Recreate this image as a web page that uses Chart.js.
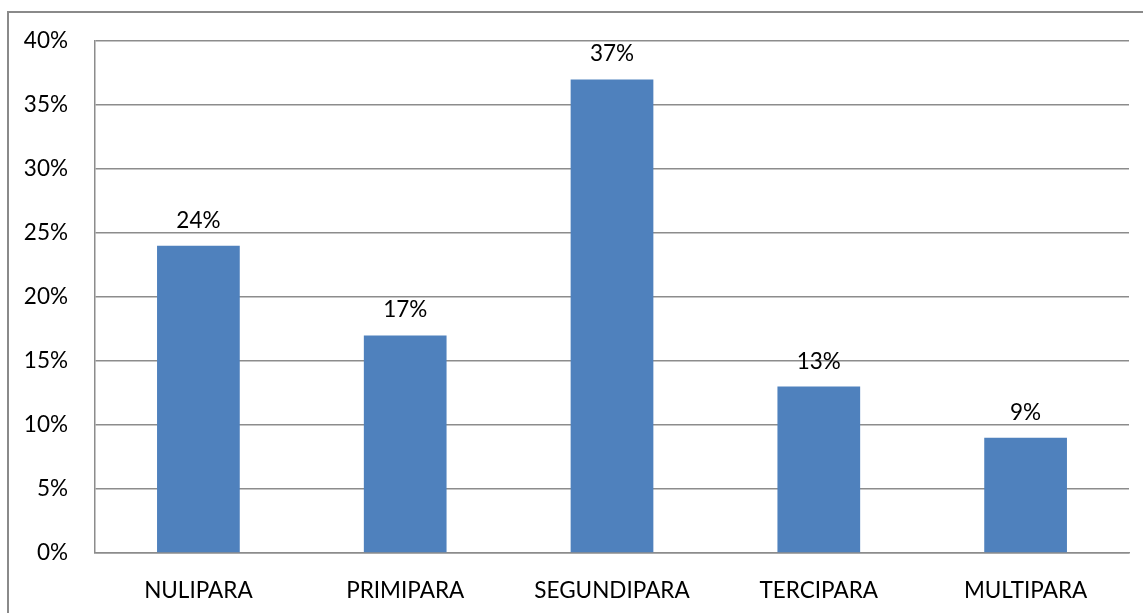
<!DOCTYPE html>
<html>
<head>
<meta charset="utf-8">
<script src="https://cdn.jsdelivr.net/npm/chart.js@4"></script>
<style>
  html, body { margin: 0; padding: 0; background: #ffffff; overflow: hidden; }
  #wrap { position: relative; width: 1143px; height: 613px; }
</style>
</head>
<body>
<div id="wrap"><canvas id="chart" width="1143" height="613"></canvas></div>
<script>
// Parity groups and share of patients in each (percent)
const categories = ['NULIPARA', 'PRIMIPARA', 'SEGUNDIPARA', 'TERCIPARA', 'MULTIPARA'];
const shares = [24, 17, 37, 13, 9];
const yTicks = [0, 5, 10, 15, 20, 25, 30, 35, 40];

const FONT = { family: 'Lato, "Open Sans", sans-serif', size: 22.5 };
const GRID = '#8c8c8c';

// Outer frame around the chart
const framePlugin = {
  id: 'frame',
  beforeDraw(chart) {
    const ctx = chart.ctx;
    ctx.save();
    ctx.fillStyle = '#ffffff';
    ctx.fillRect(0, 0, chart.width, chart.height);
    ctx.strokeStyle = '#8a8a8a';
    ctx.lineWidth = 2;
    ctx.strokeRect(8, 12, 2000, 2000);
    ctx.restore();
  }
};

// Percentage labels above each bar
const valueLabels = {
  id: 'valueLabels',
  afterDatasetsDraw(chart) {
    const ctx = chart.ctx;
    const meta = chart.getDatasetMeta(0);
    ctx.save();
    ctx.font = `${FONT.size}px ${FONT.family}`;
    ctx.fillStyle = '#000000';
    ctx.textAlign = 'center';
    ctx.textBaseline = 'alphabetic';
    meta.data.forEach((bar, i) => {
      ctx.fillText(shares[i] + '%', bar.x, bar.y - 18);
    });
    ctx.restore();
  }
};

new Chart(document.getElementById('chart'), {
  type: 'bar',
  data: {
    labels: categories,
    datasets: [{
      data: shares,
      backgroundColor: '#4f81bd',
      borderWidth: 0,
      barPercentage: 0.4,
      categoryPercentage: 1.0
    }]
  },
  options: {
    responsive: false,
    animation: false,
    events: [],
    layout: { padding: { left: 0, top: 41, right: 14, bottom: 0 } },
    plugins: {
      legend: { display: false },
      tooltip: { enabled: false },
      title: { display: false }
    },
    scales: {
      x: {
        grid: { display: false, drawTicks: false },
        border: { display: true, color: GRID, width: 1.5 },
        ticks: { color: '#000000', font: FONT, padding: 24, maxRotation: 0, autoSkip: false },
        afterFit(scale) { scale.height = 60; }
      },
      y: {
        min: 0,
        max: 40,
        afterBuildTicks(scale) { scale.ticks = yTicks.map(v => ({ value: v })); },
        grid: { color: GRID, lineWidth: 1.5, drawTicks: false },
        border: { display: true, color: GRID, width: 1.5 },
        ticks: {
          color: '#000000',
          font: FONT,
          padding: 27,
          callback: v => v + '%'
        },
        afterFit(scale) { scale.width = 95; }
      }
    }
  },
  plugins: [framePlugin, valueLabels]
});
</script>
</body>
</html>
